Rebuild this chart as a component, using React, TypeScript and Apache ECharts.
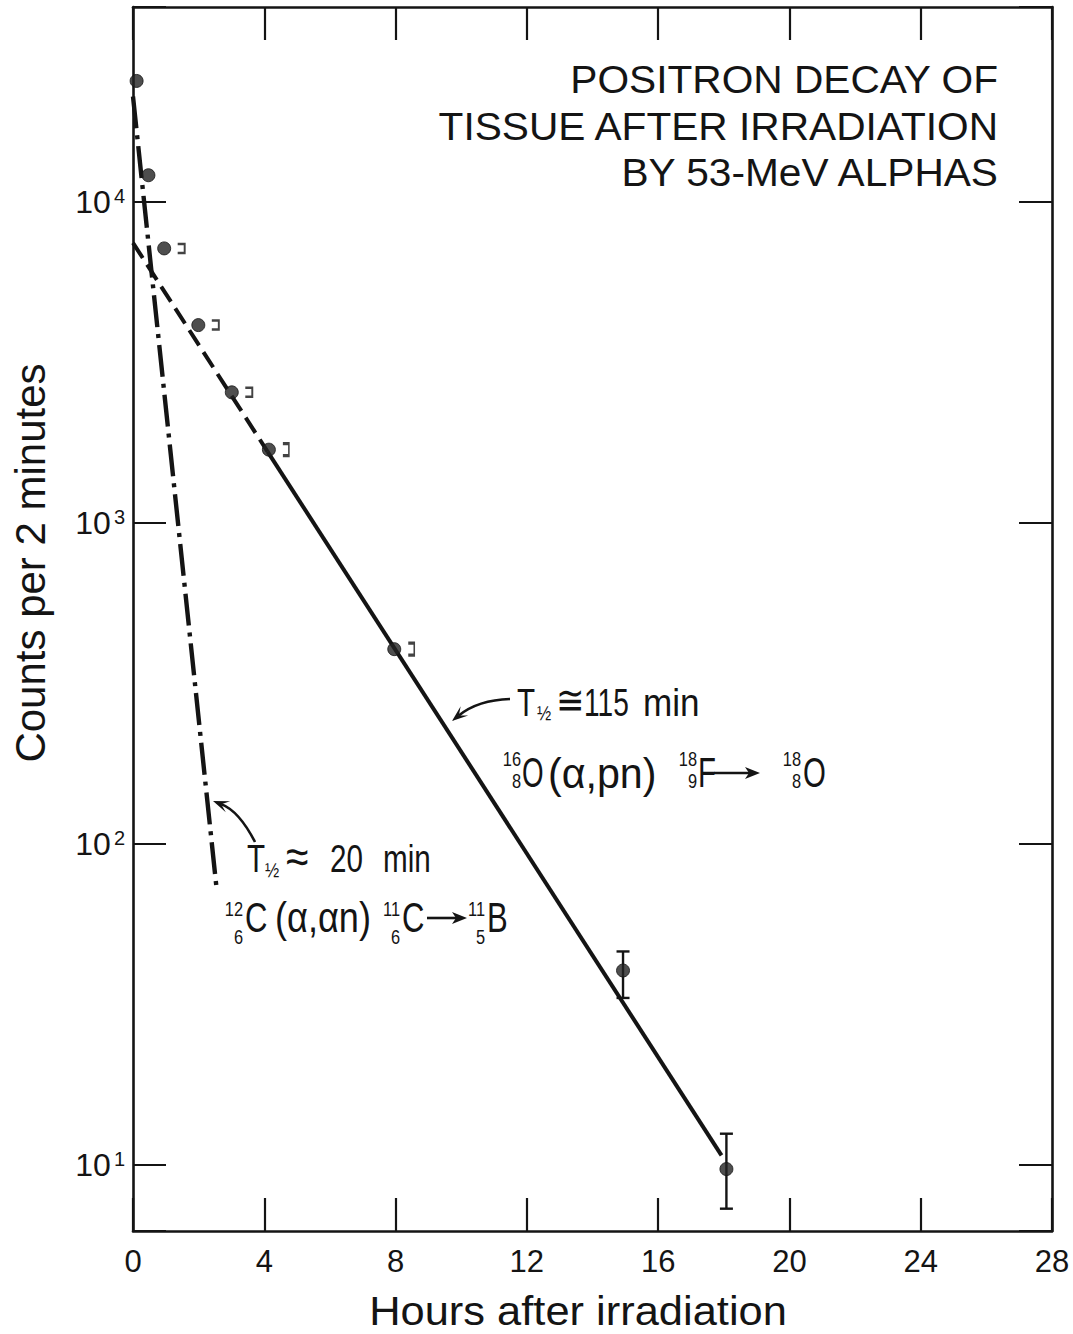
import React, { useEffect, useRef } from "react";
import * as echarts from "echarts";

const SANS = "'Liberation Sans', Arial, Helvetica, sans-serif";
const INK = "#141414";

// Measured points: hours after irradiation, counts per 2 minutes
const hours = [0.11, 0.47, 0.95, 1.99, 3.01, 4.14, 7.96, 14.93, 18.08];
const counts = [23800, 12100, 7160, 4130, 2550, 1690, 404, 40.3, 9.7];

// Points carrying a small bracket mark to their right
const bracketHours = [0.95, 1.99, 3.01, 4.14, 7.96];
const bracketCounts = [7160, 4130, 2550, 1690, 404];

// Error bars
const errHours = [14.93, 18.08];
const errCounts = [40.3, 9.7];
const errLow = [33.1, 7.3];
const errHigh = [46.2, 12.5];

// Fitted decay lines (endpoints)
const f18DashedHours = [0, 4.1];
const f18DashedCounts = [7450, 1667];
const f18SolidHours = [4.1, 17.93];
const f18SolidCounts = [1667, 10.7];
const c11Hours = [0, 2.55];
const c11Counts = [21300, 72];

// Axes
const xMin = 0;
const xMax = 28;
const xStep = 4;
const yMin = 6.22;
const yMax = 40450;

const titleLines = ["POSITRON DECAY OF", "TISSUE AFTER IRRADIATION", "BY 53-MeV ALPHAS"];
const xTitle = "Hours after irradiation";
const yTitle = "Counts per 2 minutes";

const ANN_SX = 0.76;

function textEl(
  s: string,
  x: number,
  y: number,
  size: number,
  align: string = "left",
  sx: number = ANN_SX,
  rotation: number = 0
) {
  return {
    type: "text",
    x,
    y,
    scaleX: sx,
    rotation,
    silent: true,
    z: 10,
    style: {
      text: s,
      fontSize: size,
      fontFamily: SANS,
      fill: INK,
      textAlign: align,
      align,
      textVerticalAlign: "middle",
      verticalAlign: "middle",
    },
  };
}

// isotope symbol: superscript mass number over subscript atomic number, right aligned at xr
function iso(sup: string, sub: string, xr: number, ySup: number, ySub: number) {
  return [textEl(sup, xr, ySup, 21, "right", 0.78), textEl(sub, xr, ySub, 21, "right", 0.78)];
}

function reactionArrow(x0: number, x1: number, y: number) {
  return [
    {
      type: "line",
      silent: true,
      z: 10,
      shape: { x1: x0, y1: y, x2: x1 - 10, y2: y },
      style: { stroke: INK, lineWidth: 2.6 },
    },
    {
      type: "polygon",
      silent: true,
      z: 10,
      shape: { points: [[x1, y], [x1 - 15, y - 6], [x1 - 11, y], [x1 - 15, y + 6]] },
      style: { fill: INK },
    },
  ];
}

function pointer(x0: number, y0: number, cx: number, cy: number, x1: number, y1: number) {
  const dx = x1 - cx;
  const dy = y1 - cy;
  const L = Math.hypot(dx, dy);
  const ux = dx / L;
  const uy = dy / L;
  const px = -uy;
  const py = ux;
  const hl = 16;
  const hw = 6;
  const bx = x1 - ux * hl;
  const by = y1 - uy * hl;
  const nx = x1 - ux * hl * 0.55;
  const ny = y1 - uy * hl * 0.55;
  return [
    {
      type: "bezierCurve",
      silent: true,
      z: 10,
      shape: { x1: x0, y1: y0, cpx1: cx, cpy1: cy, x2: nx, y2: ny },
      style: { stroke: INK, lineWidth: 2.6, fill: "none" },
    },
    {
      type: "polygon",
      silent: true,
      z: 10,
      shape: {
        points: [
          [x1, y1],
          [bx + px * hw, by + py * hw],
          [nx, ny],
          [bx - px * hw, by - py * hw],
        ],
      },
      style: { fill: INK },
    },
  ];
}

function pairs(xs: number[], ys: number[]) {
  return xs.map((x, i) => [x, ys[i]]);
}

export default function App() {
  const ref = useRef<HTMLDivElement>(null);

  useEffect(() => {
    if (!ref.current) return;
    const chart = echarts.init(ref.current, undefined, { renderer: "svg" });

    const yLabel = (v: number) => {
      const e = Math.log10(v);
      const r = Math.round(e);
      if (Math.abs(e - r) > 1e-6) return "";
      return `{b|10}{s|${r}}`;
    };

    const axisLineStyle = { color: INK, width: 2.6 };
    const tickStyle = { color: INK, width: 2.2 };

    const g: any[] = [];
    // Title (slightly letter-spaced look via horizontal stretch)
    const titleY = [79, 126, 172];
    titleLines.forEach((s, i) => g.push(textEl(s, 998, titleY[i], 38, "right", 1.07)));

    // Axis titles
    g.push(textEl(xTitle, 578, 1311, 41, "center", 1.06));
    g.push(textEl(yTitle, 30, 563, 42, "center", 1.0, Math.PI / 2));

    // T1/2 = 115 min annotation
    g.push(textEl("T", 517, 702, 39));
    g.push(textEl("½", 537, 713, 20, "left", 0.85));
    g.push(textEl("≅", 556, 700, 40, "left", 0.85));
    g.push(textEl("115", 584, 702, 39, "left", 0.72));
    g.push(textEl("min", 643, 702, 39, "left", 0.9));
    // 16/8 O (α,pn) 18/9 F -> 18/8 O
    g.push(...iso("16", "8", 521, 759, 781));
    g.push(textEl("O", 522, 773, 42, "left", 0.66));
    g.push(textEl("(α,pn)", 548, 773, 42, "left", 0.98));
    g.push(...iso("18", "9", 697, 759, 781));
    g.push(textEl("F", 698, 773, 42, "left", 0.7));
    g.push(...reactionArrow(714, 760, 773));
    g.push(...iso("18", "8", 801, 759, 781));
    g.push(textEl("O", 803, 773, 42, "left", 0.7));
    g.push(...pointer(510, 699, 478, 700, 452, 721));

    // T1/2 = 20 min annotation
    g.push(textEl("T", 247, 858, 39));
    g.push(textEl("½", 265, 870, 20, "left", 0.85));
    g.push(textEl("≈", 286, 856, 48, "left", 0.85));
    g.push(textEl("20", 330, 858, 39));
    g.push(textEl("min", 383, 858, 39));
    // 12/6 C (α,αn) 11/6 C -> 11/5 B
    g.push(...iso("12", "6", 243, 909, 937));
    g.push(textEl("C", 245, 918, 42, "left", 0.74));
    g.push(textEl("(α,αn)", 275, 918, 42, "left", 0.86));
    g.push(...iso("11", "6", 400, 909, 937));
    g.push(textEl("C", 402, 918, 42, "left", 0.74));
    g.push(...reactionArrow(427, 467, 918));
    g.push(...iso("11", "5", 485, 909, 937));
    g.push(textEl("B", 487, 918, 42, "left", 0.74));
    g.push(...pointer(255, 842, 239, 811, 213, 801));

    const option: any = {
      animation: false,
      backgroundColor: "#ffffff",
      grid: { left: 133, right: 21, top: 7, bottom: 103, containLabel: false },
      xAxis: [
        {
          type: "value",
          min: xMin,
          max: xMax,
          interval: xStep,
          position: "bottom",
          axisLine: { show: true, onZero: false, lineStyle: axisLineStyle },
          axisTick: { show: true, inside: true, length: 33, lineStyle: tickStyle },
          axisLabel: { fontSize: 31, fontFamily: SANS, color: INK, margin: 15 },
          splitLine: { show: false },
        },
        {
          type: "value",
          min: xMin,
          max: xMax,
          interval: xStep,
          position: "top",
          axisLine: { show: true, onZero: false, lineStyle: axisLineStyle },
          axisTick: { show: true, inside: true, length: 33, lineStyle: tickStyle },
          axisLabel: { show: false },
          splitLine: { show: false },
        },
      ],
      yAxis: [
        {
          type: "log",
          logBase: 10,
          min: yMin,
          max: yMax,
          position: "left",
          axisLine: { show: true, onZero: false, lineStyle: axisLineStyle },
          axisTick: { show: true, inside: true, length: 33, lineStyle: tickStyle },
          axisLabel: {
            formatter: yLabel,
            margin: 8,
            rich: {
              b: { fontSize: 32, fontFamily: SANS, color: INK, lineHeight: 32 },
              s: {
                fontSize: 20,
                fontFamily: SANS,
                color: INK,
                lineHeight: 16,
                verticalAlign: "top",
                padding: [0, 0, 0, 3],
              },
            },
          },
          splitLine: { show: false },
          minorTick: { show: false },
        },
        {
          type: "log",
          logBase: 10,
          min: yMin,
          max: yMax,
          position: "right",
          axisLine: { show: true, onZero: false, lineStyle: axisLineStyle },
          axisTick: { show: true, inside: true, length: 33, lineStyle: tickStyle },
          axisLabel: { show: false },
          splitLine: { show: false },
        },
      ],
      series: [
        {
          type: "line",
          name: "18F dashed",
          data: pairs(f18DashedHours, f18DashedCounts),
          symbol: "none",
          silent: true,
          z: 2,
          lineStyle: { color: INK, width: 4, type: [18, 8] },
        },
        {
          type: "line",
          name: "18F",
          data: pairs(f18SolidHours, f18SolidCounts),
          symbol: "none",
          silent: true,
          z: 2,
          lineStyle: { color: INK, width: 4 },
        },
        {
          type: "line",
          name: "11C",
          data: pairs(c11Hours, c11Counts),
          symbol: "none",
          silent: true,
          z: 2,
          lineStyle: { color: INK, width: 4.4, type: [32, 7, 4, 7] },
        },
        {
          type: "custom",
          name: "errors",
          silent: true,
          z: 3,
          data: errHours.map((h, i) => [h, errCounts[i], errLow[i], errHigh[i]]),
          encode: { x: 0, y: [1, 2, 3] },
          renderItem: (_p: any, api: any) => {
            const x = api.value(0);
            const lo = api.coord([x, api.value(2)]);
            const hi = api.coord([x, api.value(3)]);
            const w = 6.5;
            const style = { stroke: INK, lineWidth: 2.4 };
            return {
              type: "group",
              children: [
                { type: "line", shape: { x1: lo[0], y1: lo[1], x2: hi[0], y2: hi[1] }, style },
                { type: "line", shape: { x1: lo[0] - w, y1: lo[1], x2: lo[0] + w, y2: lo[1] }, style },
                { type: "line", shape: { x1: hi[0] - w, y1: hi[1], x2: hi[0] + w, y2: hi[1] }, style },
              ],
            };
          },
        },
        {
          type: "scatter",
          name: "counts",
          data: pairs(hours, counts),
          symbol: "circle",
          symbolSize: 13,
          silent: true,
          z: 4,
          itemStyle: { color: "#222", borderColor: INK, borderWidth: 1 },
        },
        {
          type: "scatter",
          name: "brackets",
          data: pairs(bracketHours, bracketCounts),
          symbol: "path://M0,0L10,0L10,10L0,10",
          symbolKeepAspect: false,
          symbolSize: (_v: any, p: any) => (p.dataIndex >= 3 ? [6, 12] : [7, 9]),
          symbolOffset: [17, 0],
          silent: true,
          z: 4,
          itemStyle: { color: "rgba(0,0,0,0)", borderColor: INK, borderWidth: 2.2 },
        },
      ],
      graphic: { elements: g },
    };

    chart.setOption(option);
    return () => chart.dispose();
  }, []);

  return (
    <div
      ref={ref}
      style={{ position: "absolute", left: 0, top: 0, width: 1073, height: 1334, background: "#fff" }}
    />
  );
}
